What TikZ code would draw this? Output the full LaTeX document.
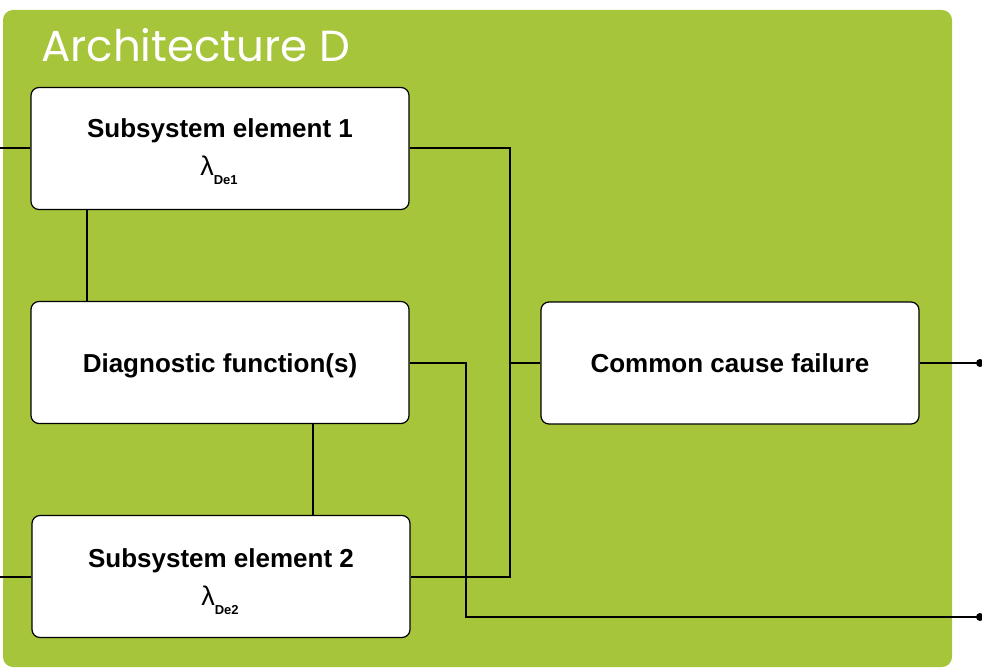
\documentclass[tikz,border=0pt]{standalone}
\usepackage{fontspec}
\setmainfont{Liberation Sans}
\newfontfamily\titlefont{Poppins}
\usetikzlibrary{positioning}

\definecolor{panelgreen}{HTML}{A6C53A}

\tikzset{
  blockbox/.style={draw=black, line width=1.2pt, fill=white, rounded corners=8pt,
    minimum width=378pt, minimum height=122pt, inner sep=0pt},
  wire/.style={line width=2pt},
  boxtext/.style={anchor=base, font=\fontsize{26}{28}\selectfont\bfseries},
  ratetext/.style={anchor=base, font=\fontsize{27}{29}\selectfont},
}

\newcommand{\failrate}[1]{λ\raisebox{-9pt}{\fontsize{13}{14}\selectfont\bfseries #1}}

\begin{document}
\begin{tikzpicture}[x=1pt,y=-1pt]
    \useasboundingbox (0,0) rectangle (982,668);

    % Panel
    \fill[panelgreen, rounded corners=10pt] (3,10) rectangle (952,667);
    \node[anchor=base west, white, inner sep=0pt, font=\titlefont\fontsize{43.5}{48}\selectfont] (title) at (41,62) {Architecture D};

    % Blocks
    \node[blockbox] (sub1) at (220,148.5) {};
    \node[blockbox] (diag) at (220,362.5) {};
    \node[blockbox] (sub2) at (221,576.5) {};
    \node[blockbox] (ccf) at (730,363) {};

    % Block texts
    \node[boxtext] (sub1name) at (220,138) {Subsystem element 1};
    \node[ratetext] (sub1rate) at (219,176) {\failrate{De1}};
    \node[boxtext] (diagname) at (220,372) {Diagnostic function(s)};
    \node[boxtext] (sub2name) at (221,567) {Subsystem element 2};
    \node[ratetext] (sub2rate) at (220,605) {\failrate{De2}};
    \node[boxtext] (ccfname) at (730,372) {Common cause failure};

    % Connection points
    \coordinate (in1) at (0,148.5);
    \coordinate (in2) at (0,576.5);
    \coordinate (bus) at (510,363);
    \coordinate (tap) at (466,617);
    \coordinate (out1) at (980,363);
    \coordinate (out2) at (980,617);

    % Wires
    \draw[wire] (in1) -- (sub1.west);
    \draw[wire] (in2) -- (sub2.west);
    \draw[wire] (sub1.east) -| (bus) |- (sub2.east);
    \draw[wire] (bus) -- (ccf.west);
    \draw[wire] (ccf.east) -- (out1);
    \draw[wire] (diag.east) -| (tap) -- (out2);
    \draw[wire] ([xshift=-133pt]sub1.south) -- ([xshift=-133pt]diag.north);
    \draw[wire] ([xshift=93pt]diag.south) -- ([xshift=92pt]sub2.north);
    \fill (out1) circle (4pt);
    \fill (out2) circle (4pt);
\end{tikzpicture}
\end{document}
